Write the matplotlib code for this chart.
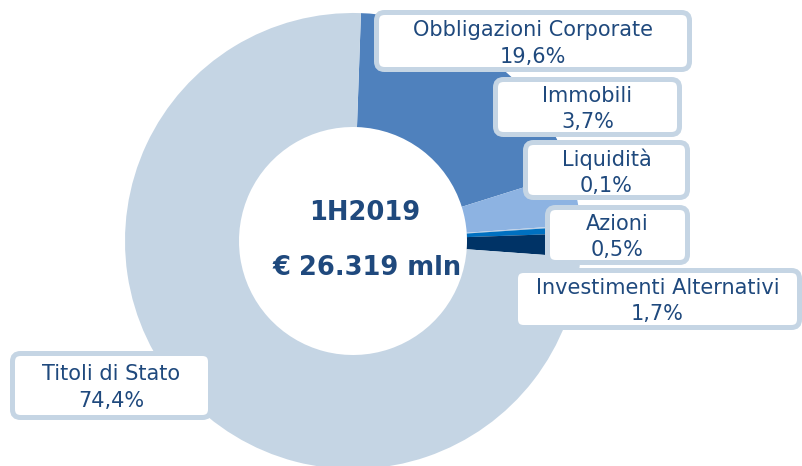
import matplotlib
matplotlib.use("Agg")
import matplotlib.pyplot as plt
from matplotlib.patches import FancyBboxPatch

# Data
categories = ["Obbligazioni Corporate", "Immobili", "Liquidità", "Azioni",
              "Investimenti Alternativi", "Titoli di Stato"]
values = [19.6, 3.7, 0.1, 0.5, 1.7, 74.4]
value_labels = ["19,6%", "3,7%", "0,1%", "0,5%", "1,7%", "74,4%"]
colors = ["#4F81BD", "#8DB3E2", "#B8CCE4", "#0070C0", "#003366", "#C5D5E4"]
center_title = "1H2019"
center_value = "€ 26.319 mln"

W, H = 803, 466
fig = plt.figure(figsize=(W / 100, H / 100), dpi=100)
ax = fig.add_axes([0, 0, 1, 1])

cx, cy = 353, H - 241
R = 228
ax.pie(values, colors=colors, startangle=88, counterclock=False,
       center=(cx, cy), radius=R,
       wedgeprops=dict(width=R * 0.5, linewidth=0))
ax.set_xlim(0, W)
ax.set_ylim(0, H)
ax.set_aspect("equal")
ax.axis("off")

text_color = "#1F497D"
border_color = "#C5D5E4"

# label boxes (layout, pixel coordinates from top-left: x0, x1, y0, y1)
boxes = [
    (376.5, 689.5, 12.5, 69.5),
    (495.5, 679.5, 79.5, 134.5),
    (525.5, 687.5, 142.5, 197.5),
    (547.5, 687.5, 207.5, 262.5),
    (515.5, 799.5, 270.5, 327.5),
    (12.5, 210.5, 353.5, 417.5),
]
for (x0, x1, y0, y1), cat, lab in zip(boxes, categories, value_labels):
    p = FancyBboxPatch((x0, H - y1), x1 - x0, y1 - y0,
                       boxstyle="round,pad=0,rounding_size=8",
                       facecolor="white", edgecolor=border_color,
                       linewidth=3.6, zorder=5)
    ax.add_patch(p)
    xc = (x0 + x1) / 2
    yc = H - (y0 + y1) / 2
    ax.text(xc, yc + 11, cat, ha="center", va="center", fontsize=15,
            color=text_color, zorder=6, family="DejaVu Sans")
    ax.text(xc, yc - 15.5, lab, ha="center", va="center", fontsize=15,
            color=text_color, zorder=6, family="DejaVu Sans")

ax.text(365, H - 213, center_title, ha="center", va="center", fontsize=18.5,
        fontweight="bold", color=text_color, zorder=6)
ax.text(367, H - 268, center_value, ha="center", va="center", fontsize=18.5,
        fontweight="bold", color=text_color, zorder=6)

fig.savefig("out.png", dpi=100)
